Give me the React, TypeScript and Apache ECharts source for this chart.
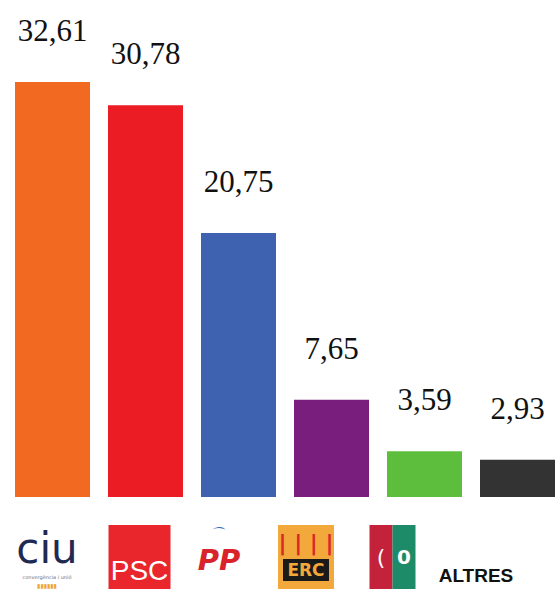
import React, { useEffect, useRef } from "react";
import * as echarts from "echarts";

const parties = ["CiU", "PSC", "PP", "ERC", "ICV", "ALTRES"];
const voteShare = [32.61, 30.78, 20.75, 7.65, 3.59, 2.93];
const barColors = ["#f26a22", "#ec1c24", "#3e62b0", "#7a1e7d", "#5dbd3c", "#333333"];
const valueLabels = ["32,61", "30,78", "20,75", "7,65", "3,59", "2,93"];

export default function App() {
  const ref = useRef<HTMLDivElement>(null);
  useEffect(() => {
    if (!ref.current) return;
    const chart = echarts.init(ref.current, null, { renderer: "svg" });
    const sp = (i: number) => `{sp${i}| }`;
    const logoFormatter = (value: string, index: number) => {
      const s = sp(index);
      switch (value) {
        case "CiU":
          return `{ciu|ciu}${s}\n{ciuSub|convergència i unió}${s}\n{ciuStripe|▮▮▮▮▮▮}${s}`;
        case "PSC":
          return `{pscA| }${s}\n{psc|PSC}${s}`;
        case "PP":
          return `{ppArc|⌒}${s}\n{pp|PP}${s}`;
        case "ERC":
          return `{ercA|| | | |}${s}\n{ercP| }{ercB|ERC}{ercP| }${s}\n{ercC| }${s}`;
        case "ICV":
          return `{icvR|(}{icvG|0}${s}`;
        default:
          return `{alt|ALTRES}${s}`;
      }
    };
    const shifts = [11, 12, 39, 51, 64, 83];
    const rich: Record<string, any> = {
      ciu: { color: "#1f2a52", fontSize: 42, fontFamily: "DejaVu Sans", lineHeight: 47 },
      ciuSub: { color: "#6a6f88", fontSize: 5, lineHeight: 9, fontFamily: "DejaVu Sans" },
      ciuStripe: { color: "#eea43a", fontSize: 6, lineHeight: 8, fontFamily: "DejaVu Sans" },
      pscA: { backgroundColor: "#e8262b", width: 62, height: 26, fontSize: 10 },
      psc: {
        backgroundColor: "#e8262b", color: "#ffffff", width: 62, height: 38, fontSize: 28,
        lineHeight: 38, align: "center", fontFamily: "Liberation Sans Narrow, Liberation Sans",
      },
      ppArc: { color: "#2f63b6", fontSize: 16, lineHeight: 18, fontFamily: "DejaVu Sans" },
      pp: {
        color: "#d8232a", fontSize: 29, fontStyle: "italic", fontWeight: "bold",
        lineHeight: 34, fontFamily: "DejaVu Sans",
      },
      ercA: {
        backgroundColor: "#f2a83a", color: "#d8282a", width: 56, height: 34, fontSize: 22,
        fontWeight: "bold", lineHeight: 34, align: "center", fontFamily: "DejaVu Sans",
      },
      ercP: { backgroundColor: "#f2a83a", width: 5, height: 22, fontSize: 10, lineHeight: 22 },
      ercB: {
        backgroundColor: "#1a1a1a", color: "#f2a83a", width: 46, height: 22, fontSize: 17,
        fontWeight: "bold", lineHeight: 22, align: "center", fontFamily: "DejaVu Sans",
      },
      ercC: { backgroundColor: "#f2a83a", width: 56, height: 8, fontSize: 6, lineHeight: 8 },
      icvR: {
        backgroundColor: "#c4213b", color: "#ffffff", width: 23, height: 64, fontSize: 22,
        lineHeight: 64, align: "center", fontFamily: "DejaVu Sans",
      },
      icvG: {
        backgroundColor: "#1d8a68", color: "#ffffff", width: 23, height: 64, fontSize: 20,
        lineHeight: 64, align: "center", fontWeight: "bold", fontFamily: "DejaVu Sans",
      },
      alt: {
        color: "#111111", fontSize: 19, fontWeight: "bold", fontFamily: "Liberation Sans",
        lineHeight: 100,
      },
    };
    shifts.forEach((w, i) => {
      rich["sp" + i] = { width: w, height: 1, fontSize: 1, lineHeight: 1 };
    });

    chart.setOption({
      animation: false,
      backgroundColor: "#ffffff",
      grid: {
        left: 6, right: -9, top: 82, bottom: 92,
        containLabel: false, outerBoundsMode: "none",
      },
      xAxis: {
        type: "category",
        data: parties,
        axisLine: { show: false },
        axisTick: { show: false },
        axisLabel: {
          interval: 0,
          margin: 28,
          hideOverlap: false,
          formatter: logoFormatter,
          rich,
        },
      },
      yAxis: {
        type: "value",
        min: 0,
        max: "dataMax",
        show: false,
        splitLine: { show: false },
      },
      series: [
        {
          type: "bar",
          data: voteShare.map((v, i) => ({ value: v, itemStyle: { color: barColors[i] } })),
          barWidth: 75,
          label: {
            show: true,
            position: "top",
            distance: 36,
            formatter: (p: any) => valueLabels[p.dataIndex],
            fontFamily: "Liberation Serif",
            fontSize: 31,
            color: "#111111",
          },
        },
      ],
    });
    return () => chart.dispose();
  }, []);
  return (
    <div
      ref={ref}
      style={{ position: "absolute", left: 0, top: 0, width: 555, height: 589 }}
    />
  );
}
